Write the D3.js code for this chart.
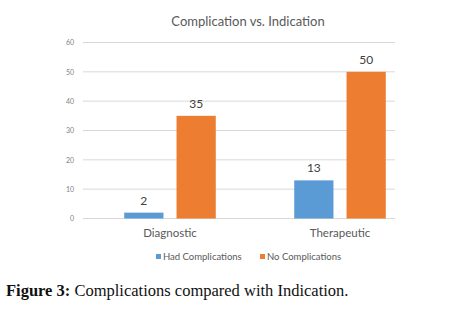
<!DOCTYPE html>
<html>
<head>
<meta charset="utf-8">
<script src="https://cdn.jsdelivr.net/npm/d3@7"></script>
<style>
  body { margin: 0; background: #fff; }
</style>
</head>
<body>
<svg class="chart" width="462" height="325"></svg>
<script>
const categories = ['Diagnostic', 'Therapeutic'];
const seriesNames = ['Had Complications', 'No Complications'];
const hadComplications = [2, 13];
const noComplications = [35, 50];
const yTicks = [0, 10, 20, 30, 40, 50, 60];
const colors = ['#5b9bd5', '#ed7d31'];

const svg = d3.select('.chart');
const font = 'Lato, "Open Sans", sans-serif';

const y = d3.scaleLinear().domain([0, 60]).range([218.5, 42.5]);
const x = d3.scaleBand().domain(categories).range([85, 425]);
const inner = d3.scaleBand().domain(seriesNames).range([0, x.bandwidth()])
  .paddingInner(0.25).paddingOuter(0.75);

// title
svg.append('text')
  .attr('x', 248)
  .attr('y', 26)
  .attr('text-anchor', 'middle')
  .attr('font-family', font)
  .attr('font-size', 13)
  .attr('fill', '#595959')
  .text('Complication vs. Indication');

// gridlines
svg.append('g')
  .selectAll('line')
  .data(yTicks)
  .join('line')
  .attr('x1', 83)
  .attr('x2', 395)
  .attr('y1', d => y(d))
  .attr('y2', d => y(d))
  .attr('stroke', '#d9d9d9')
  .attr('stroke-width', 1);

// y axis labels
const yAxis = svg.append('g')
  .attr('transform', 'translate(74,0)')
  .call(d3.axisLeft(y).tickValues(yTicks).tickSize(0).tickPadding(0));
yAxis.select('.domain').remove();
yAxis.selectAll('text')
  .attr('font-family', font)
  .attr('font-size', 7)
  .attr('fill', '#7f7f7f');

// bars
const rows = categories.map((c, i) => ({
  category: c,
  values: [hadComplications[i], noComplications[i]]
}));

const groups = svg.append('g')
  .selectAll('g')
  .data(rows)
  .join('g')
  .attr('transform', d => `translate(${x(d.category)},0)`);

groups.selectAll('rect')
  .data(d => d.values.map((v, j) => ({ name: seriesNames[j], value: v, j })))
  .join('rect')
  .attr('x', d => inner(d.name))
  .attr('y', d => y(d.value))
  .attr('width', inner.bandwidth())
  .attr('height', d => y(0) - y(d.value))
  .attr('fill', d => colors[d.j]);

groups.selectAll('text.value')
  .data(d => d.values.map((v, j) => ({ name: seriesNames[j], value: v })))
  .join('text')
  .attr('class', 'value')
  .attr('x', d => inner(d.name) + inner.bandwidth() / 2)
  .attr('y', d => y(d.value) - 8)
  .attr('text-anchor', 'middle')
  .attr('font-family', font)
  .attr('font-size', 12)
  .attr('fill', '#404040')
  .text(d => d.value);

// category labels
svg.append('g')
  .selectAll('text')
  .data(categories)
  .join('text')
  .attr('x', d => x(d) + x.bandwidth() / 2)
  .attr('y', 237)
  .attr('text-anchor', 'middle')
  .attr('font-family', font)
  .attr('font-size', 11.5)
  .attr('fill', '#595959')
  .text(d => d);

// legend
const legendX = [156, 260];
const legend = svg.append('g')
  .selectAll('g')
  .data(seriesNames)
  .join('g')
  .attr('transform', (d, i) => `translate(${legendX[i]},257)`);

legend.append('rect')
  .attr('x', 0)
  .attr('y', -3)
  .attr('width', 5)
  .attr('height', 5)
  .attr('fill', (d, i) => colors[i]);

legend.append('text')
  .attr('x', 7)
  .attr('y', 3)
  .attr('font-family', font)
  .attr('font-size', 9.5)
  .attr('fill', '#595959')
  .text(d => d);

// caption
const caption = svg.append('text')
  .attr('x', 6)
  .attr('y', 296)
  .attr('font-family', '"Liberation Serif", serif')
  .attr('font-size', 16.5)
  .attr('fill', '#111');
caption.append('tspan').attr('font-weight', 'bold').text('Figure 3: ');
caption.append('tspan').text('Complications compared with Indication.');
</script>
</body>
</html>
